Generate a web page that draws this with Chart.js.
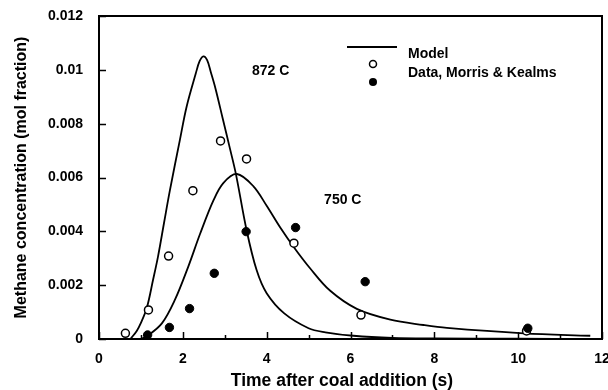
<!DOCTYPE html>
<html>
<head>
<meta charset="utf-8">
<script src="https://cdn.jsdelivr.net/npm/chart.js@4.4.1/dist/chart.umd.min.js"></script>
<style>
  html, body { margin: 0; padding: 0; background: #fff; }
  canvas { display: block; }
</style>
</head>
<body>
<canvas id="chart" width="608" height="390"></canvas>
<script>
// Axis ticks
const xTickValues = [0, 2, 4, 6, 8, 10, 12];
const xTickLabels = ['0', '2', '4', '6', '8', '10', '12'];
const yTickValues = [0, 0.002, 0.004, 0.006, 0.008, 0.01, 0.012];
const yTickLabels = ['0', '0.002', '0.004', '0.006', '0.008', '0.01', '0.012'];

// Model curve, 872 C (time s, mol fraction)
const model872Time = [0.75, 0.90, 1.00, 1.14, 1.29, 1.41, 1.55, 1.69, 1.93, 2.09, 2.31, 2.40, 2.49, 2.58, 2.67, 2.78, 2.95, 3.12, 3.27, 3.52, 3.76, 4.00, 4.42, 5.00, 5.40, 6.07, 7.00, 8.00, 10.0, 11.75];
const model872Conc = [0.0, 0.0003, 0.0006, 0.00115, 0.0022, 0.00308, 0.0043, 0.00551, 0.0074, 0.00863, 0.00987, 0.01032, 0.0105, 0.01036, 0.0099, 0.0093, 0.0082, 0.0071, 0.0061, 0.00405, 0.00256, 0.0017, 0.00095, 0.0004, 0.00025, 0.00012, 0.00004, 0.00002, 0.00001, 0.0];

// Model curve, 750 C
const model750Time = [1.00, 1.14, 1.50, 1.81, 2.13, 2.41, 2.73, 2.97, 3.29, 3.68, 4.00, 4.32, 4.64, 5.04, 5.51, 6.15, 6.95, 7.74, 8.30, 10.13, 11.72];
const model750Conc = [0.0, 0.0001, 0.00058, 0.00145, 0.00269, 0.0039, 0.00515, 0.0058, 0.00613, 0.00568, 0.00495, 0.00415, 0.00343, 0.00262, 0.0018, 0.00112, 0.00072, 0.00052, 0.00041, 0.00021, 0.00012];

// Measurements, Morris & Kealms
const data872Time = [0.63, 1.18, 1.66, 2.24, 2.90, 3.52, 4.65, 6.25, 10.2];
const data872Conc = [0.00021, 0.00108, 0.00308, 0.00551, 0.00736, 0.00669, 0.00356, 0.00089, 0.0003];
const data750Time = [1.16, 1.68, 2.16, 2.75, 3.51, 4.69, 6.35, 10.23];
const data750Conc = [0.00015, 0.00043, 0.00113, 0.00244, 0.00399, 0.00414, 0.00213, 0.0004];

const FONT = '"Liberation Sans", Arial, Helvetica, sans-serif';
Chart.defaults.font.family = FONT;
Chart.defaults.color = '#000';

const pts = (xs, ys) => xs.map((x, i) => ({ x: x, y: ys[i] }));

// Frame, inward tick marks, axis title, curve labels and key
const decorations = {
  id: 'decorations',
  afterDraw(chart) {
    const { ctx, chartArea: a, scales: { x, y } } = chart;
    ctx.save();
    ctx.strokeStyle = '#000';
    ctx.lineWidth = 2;
    ctx.strokeRect(a.left, a.top, a.right - a.left, a.bottom - a.top);

    ctx.lineWidth = 1.5;
    ctx.beginPath();
    for (let v = 0; v <= 12; v++) {
      const px = Math.round(x.getPixelForValue(v)) + 0.5;
      const len = v % 2 === 0 ? 7 : 4;
      ctx.moveTo(px, a.bottom);
      ctx.lineTo(px, a.bottom - len);
    }
    yTickValues.forEach(v => {
      const py = Math.round(y.getPixelForValue(v)) + 0.5;
      ctx.moveTo(a.left, py);
      ctx.lineTo(a.left + 7, py);
    });
    ctx.stroke();

    ctx.fillStyle = '#000';
    ctx.textBaseline = 'middle';

    // x axis title
    ctx.textAlign = 'center';
    ctx.font = 'bold 17.5px ' + FONT;
    ctx.fillText('Time after coal addition (s)', 342, 381);

    // curve labels
    ctx.textAlign = 'left';
    ctx.font = 'bold 14px ' + FONT;
    ctx.fillText('872 C', x.getPixelForValue(3.65), y.getPixelForValue(0.00996));
    ctx.fillText('750 C', x.getPixelForValue(5.37), y.getPixelForValue(0.00516));

    // key
    ctx.lineWidth = 2;
    ctx.beginPath();
    ctx.moveTo(347, 47);
    ctx.lineTo(397, 47);
    ctx.stroke();
    ctx.font = 'bold 14px ' + FONT;
    ctx.fillText('Model', 408, 54);
    ctx.fillText('Data, Morris & Kealms', 408, 73);
    ctx.lineWidth = 1.5;
    ctx.beginPath();
    ctx.arc(373, 64, 3.5, 0, Math.PI * 2);
    ctx.fillStyle = '#fff';
    ctx.fill();
    ctx.stroke();
    ctx.beginPath();
    ctx.arc(373, 82, 4, 0, Math.PI * 2);
    ctx.fillStyle = '#000';
    ctx.fill();
    ctx.restore();
  }
};

new Chart(document.getElementById('chart'), {
  type: 'scatter',
  data: {
    datasets: [
      {
        label: 'Model 872 C', type: 'line', order: 2,
        data: pts(model872Time, model872Conc),
        borderColor: '#000', borderWidth: 1.8, pointRadius: 0,
        tension: 0.35, fill: false
      },
      {
        label: 'Model 750 C', type: 'line', order: 2,
        data: pts(model750Time, model750Conc),
        borderColor: '#000', borderWidth: 1.8, pointRadius: 0,
        tension: 0.35, fill: false
      },
      {
        label: 'Data 872 C', order: 1,
        data: pts(data872Time, data872Conc),
        pointStyle: 'circle', pointRadius: 4,
        backgroundColor: '#fff', borderColor: '#000', borderWidth: 1.5
      },
      {
        label: 'Data 750 C', order: 0,
        data: pts(data750Time, data750Conc),
        pointStyle: 'circle', pointRadius: 4.2,
        backgroundColor: '#000', borderColor: '#000', borderWidth: 1
      }
    ]
  },
  options: {
    responsive: false,
    animation: false,
    devicePixelRatio: 1,
    layout: { padding: { left: 0, right: 6, top: 16, bottom: 0 } },
    plugins: { legend: { display: false }, tooltip: { enabled: false } },
    scales: {
      x: {
        type: 'linear', min: 0, max: 12,
        afterBuildTicks(scale) { scale.ticks = xTickValues.map(v => ({ value: v })); },
        afterFit(scale) {
          scale.height = 51;
          scale.paddingLeft = 0; scale.paddingRight = 0;
        },
        grid: { display: false, drawTicks: false },
        border: { display: false },
        ticks: {
          padding: 12, maxRotation: 0, autoSkip: false,
          font: { size: 14, weight: 'bold' },
          callback: (v, i) => xTickLabels[i]
        },
        title: { display: false }
      },
      y: {
        type: 'linear', min: 0, max: 0.012,
        afterBuildTicks(scale) { scale.ticks = yTickValues.map(v => ({ value: v })); },
        afterFit(scale) {
          scale.width = 99;
          scale.paddingTop = 0; scale.paddingBottom = 0;
        },
        grid: { display: false, drawTicks: false },
        border: { display: false },
        ticks: {
          padding: 16, autoSkip: false,
          font: { size: 14, weight: 'bold' },
          callback: (v, i) => yTickLabels[i]
        },
        title: {
          display: true, text: 'Methane concentration (mol fraction)',
          font: { size: 16, weight: 'bold' },
          padding: { top: 12, bottom: 0 }
        }
      }
    }
  },
  plugins: [decorations]
});
</script>
</body>
</html>
